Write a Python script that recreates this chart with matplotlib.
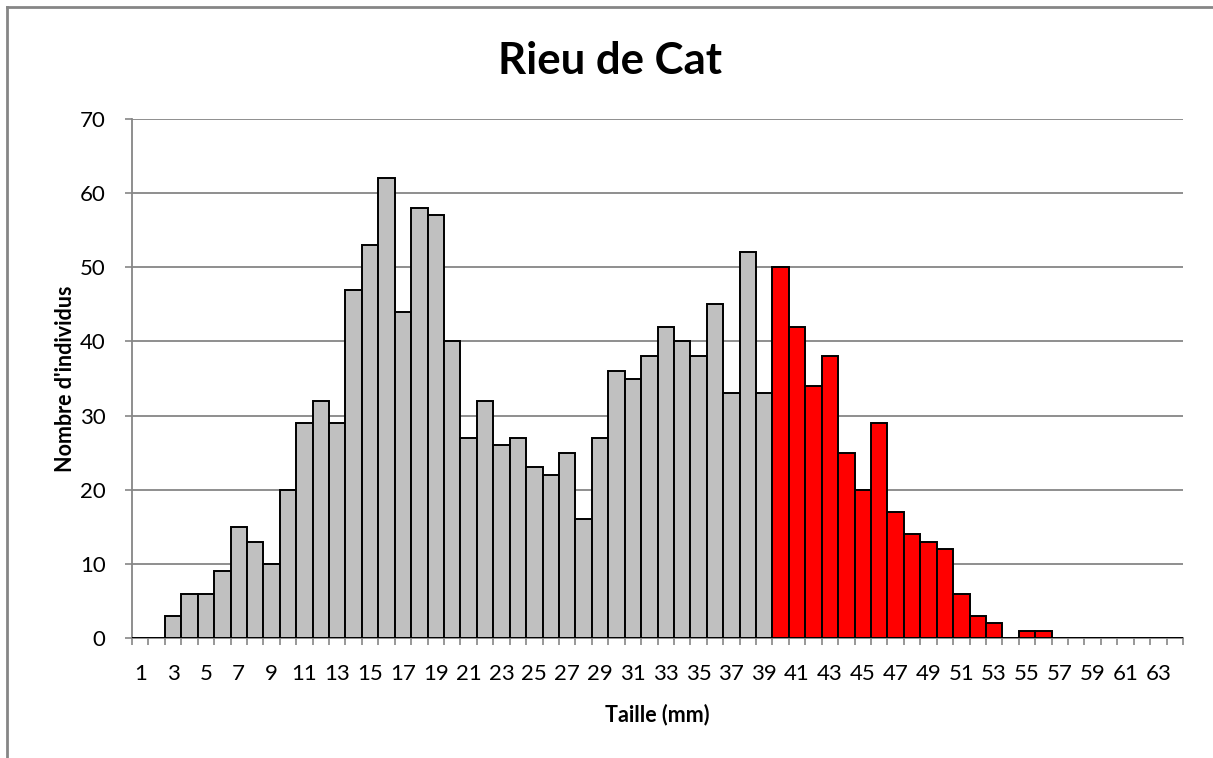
import matplotlib
matplotlib.use("Agg")
import matplotlib.pyplot as plt
from matplotlib.lines import Line2D

sizes = list(range(1, 65))
counts = [0, 0, 3, 6, 6, 9, 15, 13, 10, 20,
          29, 32, 29, 47, 53, 62, 44, 58, 57, 40,
          27, 32, 26, 27, 23, 22, 25, 16, 27, 36,
          35, 38, 42, 40, 38, 45, 33, 52, 33, 50,
          42, 34, 38, 25, 20, 29, 17, 14, 13, 12,
          6, 3, 2, 0, 1, 1, 0, 0, 0, 0,
          0, 0, 0, 0]
red_from = 40
title = "Rieu de Cat"
xlabel = "Taille (mm)"
ylabel = "Nombre d'individus"
yticks = [0, 10, 20, 30, 40, 50, 60, 70]

plt.rcParams['font.family'] = ['Lato', 'DejaVu Sans']

W, H = 1213, 758
fig = plt.figure(figsize=(W / 100, H / 100), dpi=100)
ax = fig.add_axes([132 / W, 1 - 638 / H, (1183 - 132) / W, (638 - 119) / H])

colors = ['#FF0000' if s >= red_from else '#C0C0C0' for s in sizes]
xs = list(range(len(sizes)))
ax.bar(xs, counts, width=1.0, align='edge', color=colors,
       edgecolor='black', linewidth=1.4, zorder=3)

ax.set_xlim(0, len(sizes))
ax.set_ylim(0, 70)
ax.set_yticks(yticks)
ax.set_yticklabels([str(v) for v in yticks], fontsize=16)
ax.grid(axis='y', color='#868686', linewidth=1.3, zorder=0)

# x ticks at category boundaries, labels at centres of odd sizes
ax.set_xticks(range(len(sizes) + 1))
ax.set_xticklabels([])
ax.set_xticks([i + 0.5 for i, s in enumerate(sizes) if s % 2 == 1], minor=True)
ax.set_xticklabels([str(s) for s in sizes if s % 2 == 1], minor=True, fontsize=16)
ax.tick_params(axis='x', which='major', length=5, width=1.2, color='#868686', direction='out')
ax.tick_params(axis='x', which='minor', length=0, pad=19)
ax.tick_params(axis='y', length=5, width=1.2, color='#868686', direction='out', pad=14)

for side in ['top', 'right']:
    ax.spines[side].set_visible(False)
for side in ['left', 'bottom']:
    ax.spines[side].set_color('#868686')
    ax.spines[side].set_linewidth(1.3)

ax.set_xlabel(xlabel, fontsize=15.5, fontweight='bold', labelpad=14)
ax.set_ylabel(ylabel, fontsize=15.5, fontweight='bold', labelpad=3)
fig.text(0.503, 1 - 61 / H, title, ha='center', va='center', fontsize=31.5, fontweight='bold')

# outer chart frame (top and left edges visible)
fig.lines.append(Line2D([7 / W, 1.0], [1 - 7 / H, 1 - 7 / H], transform=fig.transFigure,
                        color='#868686', linewidth=2))
fig.lines.append(Line2D([7 / W, 7 / W], [0.0, 1 - 7 / H], transform=fig.transFigure,
                        color='#868686', linewidth=2))

fig.savefig("out.png", dpi=100)
